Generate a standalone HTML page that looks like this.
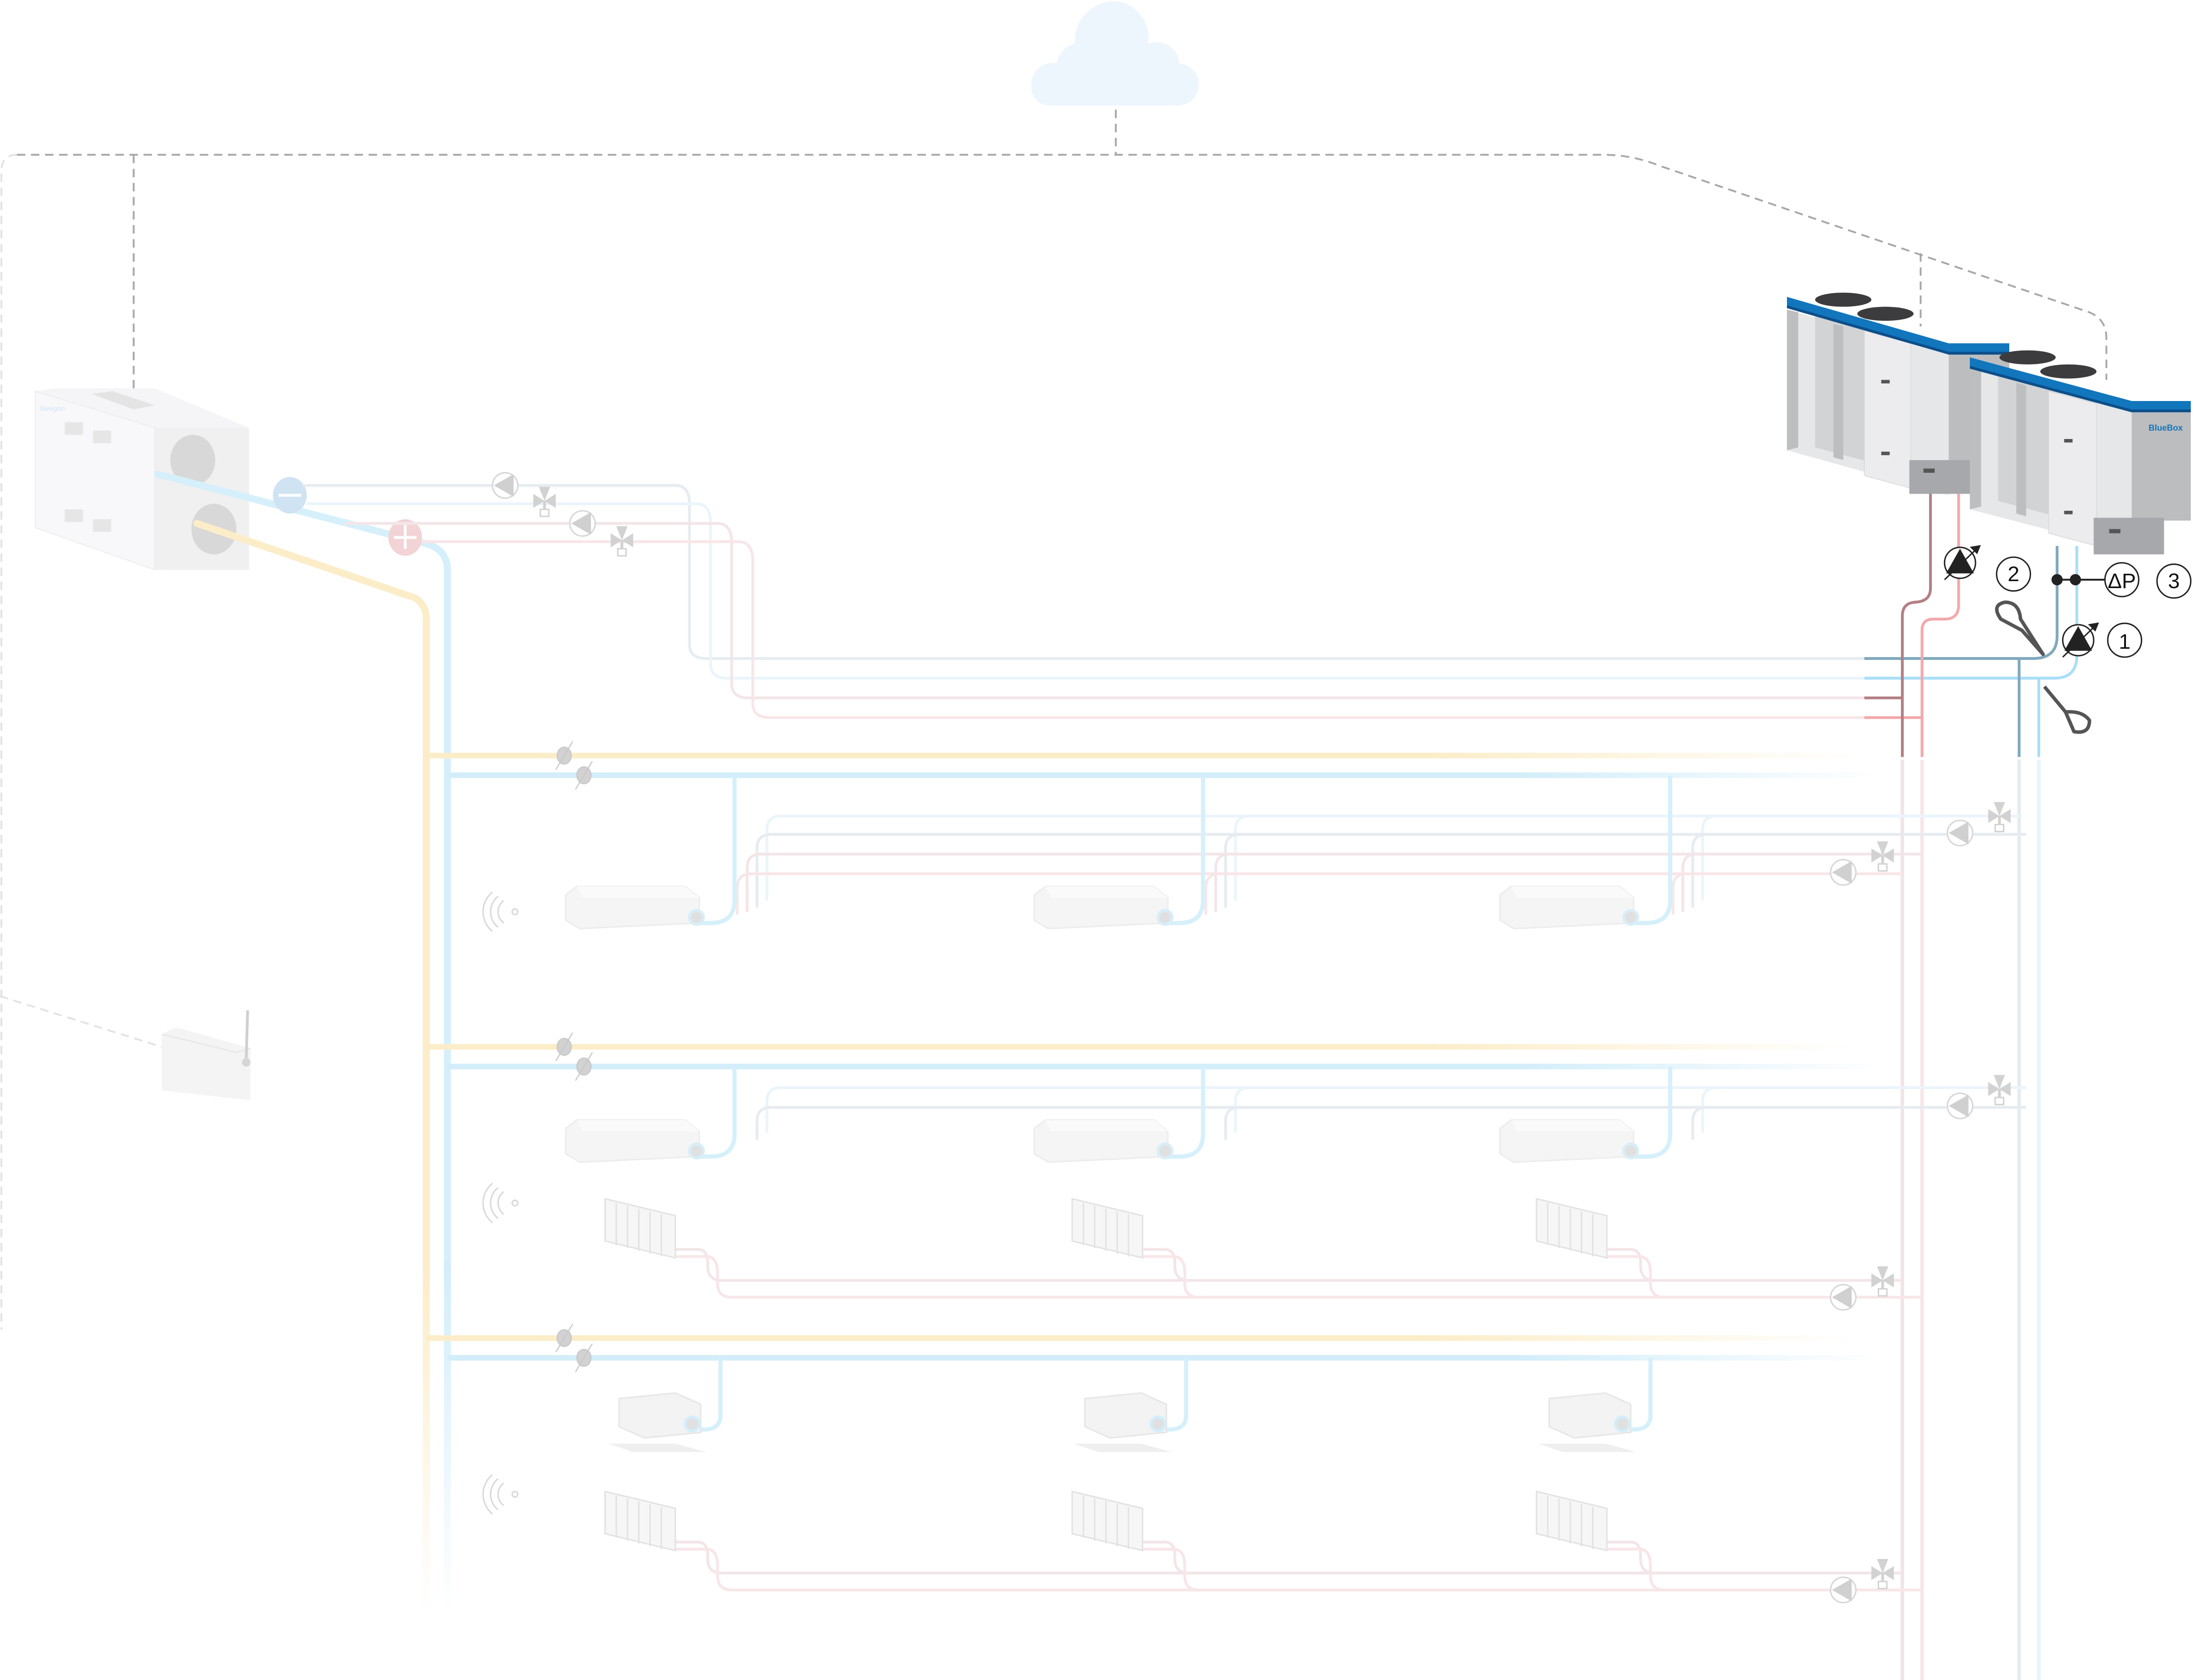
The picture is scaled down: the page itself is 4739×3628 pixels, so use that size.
<!DOCTYPE html>
<html><head><meta charset="utf-8"><style>
html,body{margin:0;padding:0;background:#fff;}
svg{display:block;}
</style></head><body>
<svg width="4739" height="3628" viewBox="0 0 1560 1194" preserveAspectRatio="none" xmlns="http://www.w3.org/2000/svg" font-family="Liberation Sans, sans-serif">
<defs>
<linearGradient id="fy" gradientUnits="userSpaceOnUse" x1="300" y1="0" x2="1320" y2="0"><stop offset="0.7" stop-color="#fcedc9"/><stop offset="1" stop-color="#fcedc9" stop-opacity="0"/></linearGradient>
<linearGradient id="fb" gradientUnits="userSpaceOnUse" x1="300" y1="0" x2="1340" y2="0"><stop offset="0.75" stop-color="#d3eefa"/><stop offset="1" stop-color="#d3eefa" stop-opacity="0"/></linearGradient>
<linearGradient id="vy" gradientUnits="userSpaceOnUse" x1="0" y1="900" x2="0" y2="1150"><stop offset="0" stop-color="#fcedc9"/><stop offset="1" stop-color="#fcedc9" stop-opacity="0"/></linearGradient>
<linearGradient id="vb" gradientUnits="userSpaceOnUse" x1="0" y1="900" x2="0" y2="1150"><stop offset="0" stop-color="#d3eefa"/><stop offset="1" stop-color="#d3eefa" stop-opacity="0"/></linearGradient>
<linearGradient id="hg" gradientUnits="userSpaceOnUse" x1="480" y1="0" x2="1330" y2="0"><stop offset="0" stop-color="#e6ecf0"/><stop offset="1" stop-color="#c9d9e2"/></linearGradient>
<g id="fc"><path d="M0,6 L8,0 L85,0 L95,8 L95,26 L10,30 L0,24 Z" fill="#f5f5f5" stroke="#ececec"/><path d="M8,0 L85,0 L95,8 L12,8Z" fill="#fafafa"/><circle cx="93" cy="22" r="5" fill="#e0e0e0" stroke="#d8eef8" stroke-width="2"/></g>
<g id="rad" fill="#f6f6f6" stroke="#e2e2e2" stroke-width="1"><path d="M2,0 L52,12 L52,42 L2,30Z"/><path d="M10,3 V33 M18,5 V35 M26,7 V37 M34,9 V39 M42,11 V41" /></g>
<g id="cas"><path d="M0,4 L40,0 L58,8 L58,28 L18,32 L0,24Z" fill="#f3f3f3" stroke="#e6e6e6"/><path d="M-8,36 L40,36 L62,42 L10,42Z" fill="#efefef"/><circle cx="52" cy="22" r="5" fill="#e0e0e0" stroke="#d3eefa" stroke-width="2"/></g>
<g id="wifi" fill="none" stroke="#d8d8d8" stroke-width="1"><path d="M-4,-8 a10,10 0 0 0 0,16 M-8,-11 a14,14 0 0 0 0,22 M-12,-14 a18,18 0 0 0 0,28"/><circle cx="4" cy="0" r="2"/></g>
<g id="pumpL"><circle r="9" fill="#fff" stroke="#d6d6d6"/><path d="M-8,0 L6,-8 L6,8Z" fill="#d0d0d0"/></g>
<g id="valve" fill="#d2d2d2"><path d="M-8,-5 L0,0 L-8,5Z M8,-5 L0,0 L8,5Z M-4,-10 L4,-10 L0,0Z"/><rect x="-1" y="0" width="2" height="6"/><rect x="-3" y="6" width="6" height="5" fill="#fff" stroke="#d2d2d2"/></g>
</defs>

<!-- cloud -->
<path d="M745,75 a13,13 0 0 1 -12,-15 a15,15 0 0 1 18,-15 a17,17 0 0 1 13,-14 a28,28 0 0 1 30,-30 a26,26 0 0 1 22,30 a16,16 0 0 1 22,14 a15,15 0 0 1 -2,30 Z" fill="#eef6fd"/>

<!-- dashed comm lines -->
<g fill="none" stroke="#a8a8a8" stroke-width="1.3" stroke-dasharray="6,4">
<path d="M793,78 V110"/>
<path d="M12,110 H1140 Q1160,110 1180,118 L1485,222 Q1497,227 1497,240 V270"/>
<path d="M1365,180 V232"/>
<path d="M95,110 V283"/>
</g>
<g fill="none" stroke="#e3e3e3" stroke-width="1.3" stroke-dasharray="6,4">
<path d="M12,110 Q1,110 1,122 V945"/>
<path d="M0,708 L118,745"/>
</g>

<!-- AHU -->
<g>
<path d="M25,278 L40,276 L110,276 L177,304 L177,405 L120,405 L30,375 Z" fill="#f5f5f7"/>
<path d="M110,304 H177 V405 H110Z" fill="#f0f0f0"/>
<path d="M25,278 L110,304 V405 L25,375Z" fill="#f8f8fa" stroke="#ececec" stroke-width="0.6"/>
<path d="M65,280 L80,278 L110,288 L95,291Z" fill="#e4e4e4"/>
<ellipse cx="137" cy="327" rx="16" ry="18" fill="#d8d8d8"/>
<ellipse cx="152" cy="376" rx="16" ry="18" fill="#d8d8d8"/>
<g fill="#e6e6e6"><rect x="46" y="300" width="13" height="9"/><rect x="66" y="306" width="13" height="9"/><rect x="46" y="362" width="13" height="9"/><rect x="66" y="369" width="13" height="9"/></g>
<text x="28" y="292" font-size="5" fill="#cfe4f5">Swegon</text>
</g>

<!-- AHU connection lines -->
<g fill="none" stroke-width="5" stroke-linecap="round">
<path d="M140,372 L295,425 Q303,430 303,440 V900" stroke="#fcedc9"/>
<path d="M303,898 V1150" stroke="url(#vy)"/>
<path d="M112,337 L305,387 Q318,392 318,405 V900" stroke="#d6f0fb"/>
<path d="M318,898 V1150" stroke="url(#vb)"/>
</g>
<ellipse cx="206" cy="352" rx="12" ry="13" fill="#cfe3f2"/><rect x="198" y="351" width="16" height="2" fill="#fff"/>
<ellipse cx="288" cy="382" rx="12" ry="13" fill="#f2d3d6"/><rect x="280" y="381" width="16" height="2" fill="#fff"/><rect x="287" y="373" width="2" height="17" fill="#fff"/>

<g fill="none" stroke-width="2">
<path d="M215,345 H480 Q490,345 490,358 V458 Q490,468 502,468 H1325" stroke="#e6ecf0"/>
<path d="M218,358 H495 Q505,358 505,372 V472 Q505,482 517,482 H1325" stroke="#eaf5fb"/>
<path d="M245,372 H510 Q520,372 520,386 V486 Q520,496 532,496 H1325" stroke="#f3e6e8"/>
<path d="M300,385 H525 Q535,385 535,399 V500 Q535,510 547,510 H1325" stroke="#f8e6e8"/>
</g>
<use href="#pumpL" x="359" y="345"/><use href="#valve" x="387" y="356"/>
<use href="#pumpL" x="414" y="372"/><use href="#valve" x="442" y="384"/>

<!-- main distribution rows -->
<g stroke-width="4" fill="none">
<path d="M303,537 H1320" stroke="url(#fy)"/>
<path d="M318,551 H1340" stroke="url(#fb)"/>
<path d="M303,744 H1320" stroke="url(#fy)"/>
<path d="M318,758 H1340" stroke="url(#fb)"/>
<path d="M303,951 H1320" stroke="url(#fy)"/>
<path d="M318,965 H1340" stroke="url(#fb)"/>
</g>
<g fill="#d2d2d2" stroke="#c8c8c8" stroke-width="0.8">
<ellipse cx="401" cy="537" rx="5" ry="6"/><path d="M395,547 L407,527" fill="none"/>
<ellipse cx="415" cy="551" rx="5" ry="6"/><path d="M409,561 L421,541" fill="none"/>
<ellipse cx="401" cy="744" rx="5" ry="6"/><path d="M395,754 L407,734" fill="none"/>
<ellipse cx="415" cy="758" rx="5" ry="6"/><path d="M409,768 L421,748" fill="none"/>
<ellipse cx="401" cy="951" rx="5" ry="6"/><path d="M395,961 L407,941" fill="none"/>
<ellipse cx="415" cy="965" rx="5" ry="6"/><path d="M409,975 L421,955" fill="none"/>
</g>

<!-- right vertical risers -->
<g fill="none" stroke-width="2.5">
<path d="M1352,540 V1194" stroke="#f3e4e6"/>
<path d="M1366,540 V1194" stroke="#f7e6e8"/>
<path d="M1435,540 V1194" stroke="#e4ecf0"/>
<path d="M1449,540 V1194" stroke="#e8f4fa"/>
</g>

<!-- row 1 fan coils -->
<g fill="none" stroke-width="2">
<g stroke="#eaf5fb"><path d="M545,640 V590 Q545,580 555,580 H1435"/><path d="M878,640 V590 Q878,580 888,580 H1435"/><path d="M1210,640 V590 Q1210,580 1220,580"/></g>
<g stroke="#e6ecf0"><path d="M538,645 V603 Q538,593 548,593 H1440"/><path d="M871,645 V603 Q871,593 881,593"/><path d="M1203,645 V603 Q1203,593 1213,593"/></g>
<g stroke="#f3e6e8"><path d="M531,648 V617 Q531,607 541,607 H1366"/><path d="M864,648 V617 Q864,607 874,607"/><path d="M1196,648 V617 Q1196,607 1206,607"/></g>
<g stroke="#f8e6e8"><path d="M524,650 V631 Q524,621 534,621 H1352"/><path d="M857,650 V631 Q857,621 867,621"/><path d="M1189,650 V631 Q1189,621 1199,621"/></g>
</g>
<g fill="none" stroke="#d6f0fb" stroke-width="3">
<path d="M522,551 V640 Q522,656 505,656 H495"/><path d="M855,551 V640 Q855,656 838,656 H828"/><path d="M1187,551 V640 Q1187,656 1170,656 H1160"/>
</g>
<use href="#fc" x="402" y="630"/><use href="#fc" x="735" y="630"/><use href="#fc" x="1066" y="630"/>
<use href="#pumpL" x="1393" y="592"/><use href="#valve" x="1421" y="580"/>
<use href="#pumpL" x="1310" y="620"/><use href="#valve" x="1338" y="608"/>
<use href="#wifi" x="362" y="648"/>

<!-- row 2 fan coils -->
<g fill="none" stroke-width="2">
<path d="M545,805 V783 Q545,773 555,773 H1440" stroke="#eaf5fb"/>
<path d="M538,810 V797 Q538,787 548,787 H1440" stroke="#e6ecf0"/>
<path d="M878,805 V783 Q878,773 888,773" stroke="#eaf5fb"/>
<path d="M871,810 V797 Q871,787 881,787" stroke="#e6ecf0"/>
<path d="M1210,805 V783 Q1210,773 1220,773" stroke="#eaf5fb"/>
<path d="M1203,810 V797 Q1203,787 1213,787" stroke="#e6ecf0"/>
</g>
<g fill="none" stroke="#d6f0fb" stroke-width="3">
<path d="M522,758 V806 Q522,822 505,822 H495"/><path d="M855,758 V806 Q855,822 838,822 H828"/><path d="M1187,758 V806 Q1187,822 1170,822 H1160"/>
</g>
<use href="#fc" x="402" y="796"/><use href="#fc" x="735" y="796"/><use href="#fc" x="1066" y="796"/>
<use href="#pumpL" x="1393" y="786"/><use href="#valve" x="1421" y="774"/>

<!-- row 2 radiators -->
<g fill="none" stroke-width="2">
<g stroke="#f3e6e8"><path d="M478,888 H496 Q503,888 503,898 V900 Q503,910 513,910 H1352"/><path d="M810,888 H828 Q835,888 835,898 V900 Q835,910 845,910"/><path d="M1141,888 H1159 Q1166,888 1166,898 V900 Q1166,910 1176,910"/></g>
<g stroke="#f8e6e8"><path d="M478,893 H502 Q510,893 510,905 V912 Q510,922 520,922 H1366"/><path d="M810,893 H834 Q842,893 842,905 V912 Q842,922 852,922"/><path d="M1141,893 H1165 Q1173,893 1173,905 V912 Q1173,922 1183,922"/></g>
</g>
<use href="#rad" x="428" y="852"/><use href="#rad" x="760" y="852"/><use href="#rad" x="1090" y="852"/>
<use href="#wifi" x="362" y="855"/>
<use href="#pumpL" x="1310" y="922"/><use href="#valve" x="1338" y="910"/>

<!-- row 3 cassettes -->
<g fill="none" stroke="#d6f0fb" stroke-width="3">
<path d="M512,965 V1006 Q512,1016 500,1016 H494"/><path d="M843,965 V1006 Q843,1016 831,1016 H825"/><path d="M1173,965 V1006 Q1173,1016 1161,1016 H1155"/>
</g>
<use href="#cas" x="440" y="990"/><use href="#cas" x="771" y="990"/><use href="#cas" x="1101" y="990"/>

<!-- row 3 radiators -->
<g fill="none" stroke-width="2">
<g stroke="#f3e6e8"><path d="M478,1096 H496 Q503,1096 503,1106 V1108 Q503,1118 513,1118 H1352"/><path d="M810,1096 H828 Q835,1096 835,1106 V1108 Q835,1118 845,1118"/><path d="M1141,1096 H1159 Q1166,1096 1166,1106 V1108 Q1166,1118 1176,1118"/></g>
<g stroke="#f8e6e8"><path d="M478,1101 H502 Q510,1101 510,1113 V1120 Q510,1130 520,1130 H1366"/><path d="M810,1101 H834 Q842,1101 842,1113 V1120 Q842,1130 852,1130"/><path d="M1141,1101 H1165 Q1173,1101 1173,1113 V1120 Q1173,1130 1183,1130"/></g>
</g>
<use href="#rad" x="428" y="1060"/><use href="#rad" x="760" y="1060"/><use href="#rad" x="1090" y="1060"/>
<use href="#wifi" x="362" y="1062"/>
<use href="#pumpL" x="1310" y="1130"/><use href="#valve" x="1338" y="1118"/>

<!-- router -->
<path d="M115,735 L125,730 L178,745 L178,782 L115,775Z" fill="#f4f4f4"/>
<path d="M115,735 L168,748 L178,745" fill="none" stroke="#e8e8e8"/>
<line x1="175" y1="752" x2="176" y2="718" stroke="#d0d0d0" stroke-width="2"/>
<circle cx="175" cy="755" r="3" fill="#d6d6d6"/>

<!-- chiller header lines -->
<g fill="none" stroke-width="2">
<path d="M1325,468 H1445 Q1462,468 1462,452 V388" stroke="#80a9bd"/>
<path d="M1325,482 H1460 Q1476,482 1476,466 V388" stroke="#a8defa"/>
<path d="M1325,496 H1352" stroke="#b47f84"/>
<path d="M1325,510 H1366" stroke="#f3a8ab"/>
<path d="M1352,538 V438 Q1352,428 1362,428 H1360 Q1372,428 1372,418 V350" stroke="#b47f84"/>
<path d="M1366,538 V448 Q1366,440 1374,440 H1382 Q1392,440 1392,430 V350" stroke="#f3a8ab"/>
<path d="M1435,538 V468" stroke="#80a9bd"/>
<path d="M1449,538 V482" stroke="#a8defa"/>
</g>

<!-- chiller 1 -->
<g>
<path d="M1270,220 L1385,252 L1385,352 L1270,320Z" fill="#e6e7e9"/>
<path d="M1290,224 L1335,237 L1335,330 L1290,318Z" fill="#d2d3d5"/>
<path d="M1270,220 L1278,222 L1278,318 L1270,320Z M1303,230 L1310,232 L1310,327 L1303,325Z" fill="#bdbec0"/>
<path d="M1325,235 L1358,244 L1358,347 L1325,338Z" fill="#ececee" stroke="#d8d8da" stroke-width="0.5"/>
<path d="M1385,252 L1428,252 L1428,330 L1385,330Z" fill="#bcbdbf"/>
<rect x="1357" y="327" width="56" height="24" fill="#a7a8ab"/><rect x="1367" y="333" width="8" height="3" fill="#555"/>
<rect x="1337" y="270" width="6" height="2.5" fill="#555"/><rect x="1337" y="321" width="6" height="2.5" fill="#555"/>
<path d="M1270,211 L1385,244 L1428,244 L1428,252 L1385,252 L1270,219Z" fill="#1276bd"/>
<path d="M1270,217 L1385,250 L1428,250 L1428,252 L1385,252 L1270,219Z" fill="#0d4f8a"/>
<ellipse cx="1310" cy="213" rx="20" ry="5" fill="#3c3c3e"/><ellipse cx="1340" cy="223" rx="20" ry="5" fill="#3c3c3e"/>
</g>
<!-- chiller 2 -->
<g>
<path d="M1400,262 L1515,293 L1515,392 L1400,362Z" fill="#e6e7e9"/>
<path d="M1420,265 L1465,278 L1465,368 L1420,356Z" fill="#d2d3d5"/>
<path d="M1400,262 L1408,264 L1408,360 L1400,362Z M1433,272 L1440,274 L1440,367 L1433,365Z" fill="#bdbec0"/>
<path d="M1456,278 L1490,287 L1490,388 L1456,379Z" fill="#ececee" stroke="#d8d8da" stroke-width="0.5"/>
<path d="M1515,293 L1557,293 L1557,370 L1515,370Z" fill="#bcbdbf"/>
<rect x="1488" y="368" width="50" height="26" fill="#a7a8ab"/><rect x="1499" y="376" width="8" height="3" fill="#555"/>
<rect x="1467" y="312" width="6" height="2.5" fill="#555"/><rect x="1467" y="363" width="6" height="2.5" fill="#555"/>
<path d="M1400,254 L1515,285 L1557,285 L1557,293 L1515,293 L1400,262Z" fill="#1276bd"/>
<path d="M1400,260 L1515,291 L1557,291 L1557,293 L1515,293 L1400,262Z" fill="#0d4f8a"/>
<ellipse cx="1441" cy="254" rx="20" ry="5" fill="#3c3c3e"/><ellipse cx="1470" cy="264" rx="20" ry="5" fill="#3c3c3e"/>
<text x="1527" y="306" font-size="6" font-weight="bold" fill="#1276bd">BlueBox</text>
</g>

<!-- control symbols -->
<g stroke="#222" stroke-width="1" fill="none">
<circle cx="1393" cy="400" r="11" fill="#fff"/>
<path d="M1384,407 L1393,391 L1402,407Z" fill="#222"/><path d="M1382,412 L1407,388"/><path d="M1407,388 l-6,1 l4,4Z" fill="#222"/>
<circle cx="1477" cy="455" r="11" fill="#fff"/>
<path d="M1468,462 L1477,446 L1486,462Z" fill="#222"/><path d="M1466,467 L1491,443"/><path d="M1491,443 l-6,1 l4,4Z" fill="#222"/>
<circle cx="1431" cy="408" r="12"/><circle cx="1508" cy="412" r="12"/><circle cx="1545" cy="413" r="12"/><circle cx="1510" cy="455" r="12"/>
<path d="M1462,412 H1496" stroke-width="1.3"/>
</g>
<circle cx="1462" cy="412" r="4" fill="#222"/><circle cx="1475" cy="412" r="4" fill="#222"/>
<g font-size="15" fill="#111" text-anchor="middle">
<text x="1431" y="413">2</text><text x="1508" y="418">ΔP</text><text x="1545" y="418">3</text><text x="1510" y="461">1</text>
</g>
<g fill="none" stroke="#555" stroke-width="2.5" stroke-linejoin="round">
<path d="M1452,465 L1437,448 L1422,440 Q1415,430 1425,428 Q1435,428 1436,440 Z"/>
<path d="M1453,488 L1468,506 L1474,520 Q1485,522 1485,512 Q1480,505 1468,506"/>
</g>
</svg>
</body></html>
